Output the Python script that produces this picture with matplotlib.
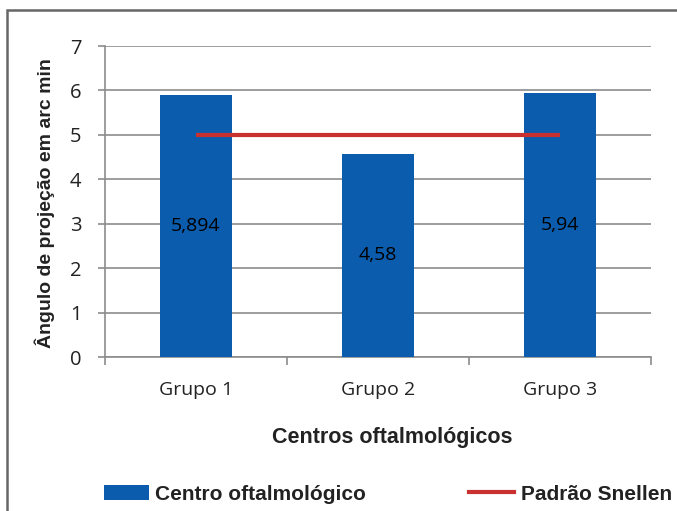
import matplotlib
matplotlib.use("Agg")
import matplotlib.pyplot as plt
from matplotlib.patches import Rectangle, Patch
from matplotlib.lines import Line2D

# data
grupos = ["Grupo 1", "Grupo 2", "Grupo 3"]
angulos = [5.894, 4.58, 5.94]
rotulos = ["5,894", "4,58", "5,94"]
snellen = [5, 5, 5]

azul = "#0B5CAD"
vermelho = "#C8312F"
cinza = "#8C8C8C"
texto = "#222222"

fig = plt.figure(figsize=(6.77, 5.11), dpi=100)
ax = fig.add_axes([105 / 677, 1 - 357 / 511, 546 / 677, 311 / 511])

x = list(range(len(grupos)))
ax.bar(x, angulos, width=0.4, color=azul, zorder=3)
ax.plot(x, snellen, color=vermelho, lw=3, zorder=4, solid_capstyle="butt")

# data labels in the middle of each bar
for xi, v, txt in zip(x, angulos, rotulos):
    ax.text(xi, v / 2, txt, ha="center", va="center", fontsize=14,
            family="Open Sans", color="black", zorder=5)

ax.set_xlim(-0.5, 2.5)
ax.set_ylim(0, 7)
ax.set_yticks(range(0, 8))
ax.yaxis.grid(True, color=cinza, lw=1.2, zorder=0)
ax.set_axisbelow(True)

ax.set_xticks(x)
ax.set_xticklabels(grupos)
ax.set_xticks([-0.5, 0.5, 1.5, 2.5], minor=True)
ax.tick_params(axis="x", which="major", length=0, pad=17, labelsize=14, labelcolor=texto)
ax.tick_params(axis="x", which="minor", length=6, color=cinza, width=1.2)
ax.tick_params(axis="y", length=5, color=cinza, width=1.2, pad=12, labelsize=14.5,
               labelcolor=texto)
for lab in ax.get_xticklabels() + ax.get_yticklabels():
    lab.set_family("Open Sans")

for s in ["top", "right"]:
    ax.spines[s].set_visible(False)
for s in ["left", "bottom"]:
    ax.spines[s].set_color(cinza)
    ax.spines[s].set_linewidth(1.2)

fig.text(392 / 677, 1 - 437 / 511, "Centros oftalmológicos", ha="center", va="center",
         fontsize=15.5, fontweight="bold", family="Liberation Sans", color=texto)
fig.text(45 / 677, 1 - 203 / 511, "Ângulo de projeção em arc min", ha="center", va="center",
         rotation=90, fontsize=14, fontweight="bold", family="Liberation Sans", color=texto)

# legend
handles = [Patch(facecolor=azul, edgecolor="none"),
           Line2D([0], [0], color=vermelho, lw=3)]
fig.legend(handles, ["Centro oftalmológico", "Padrão Snellen"], ncol=2,
           loc="center", bbox_to_anchor=(388 / 677, 1 - 494 / 511), frameon=False,
           prop={"family": "Liberation Sans", "weight": "bold", "size": 15},
           handlelength=2.16, handletextpad=0.33, columnspacing=4.95, labelcolor=texto)

# outer frame of the figure
fig.patches.append(Rectangle((7 / 677, -0.2), 1.2, 1.2 - 10 / 511,
                             transform=fig.transFigure, fill=False,
                             edgecolor="#666666", lw=1.8))

fig.savefig("out.png", dpi=100)
